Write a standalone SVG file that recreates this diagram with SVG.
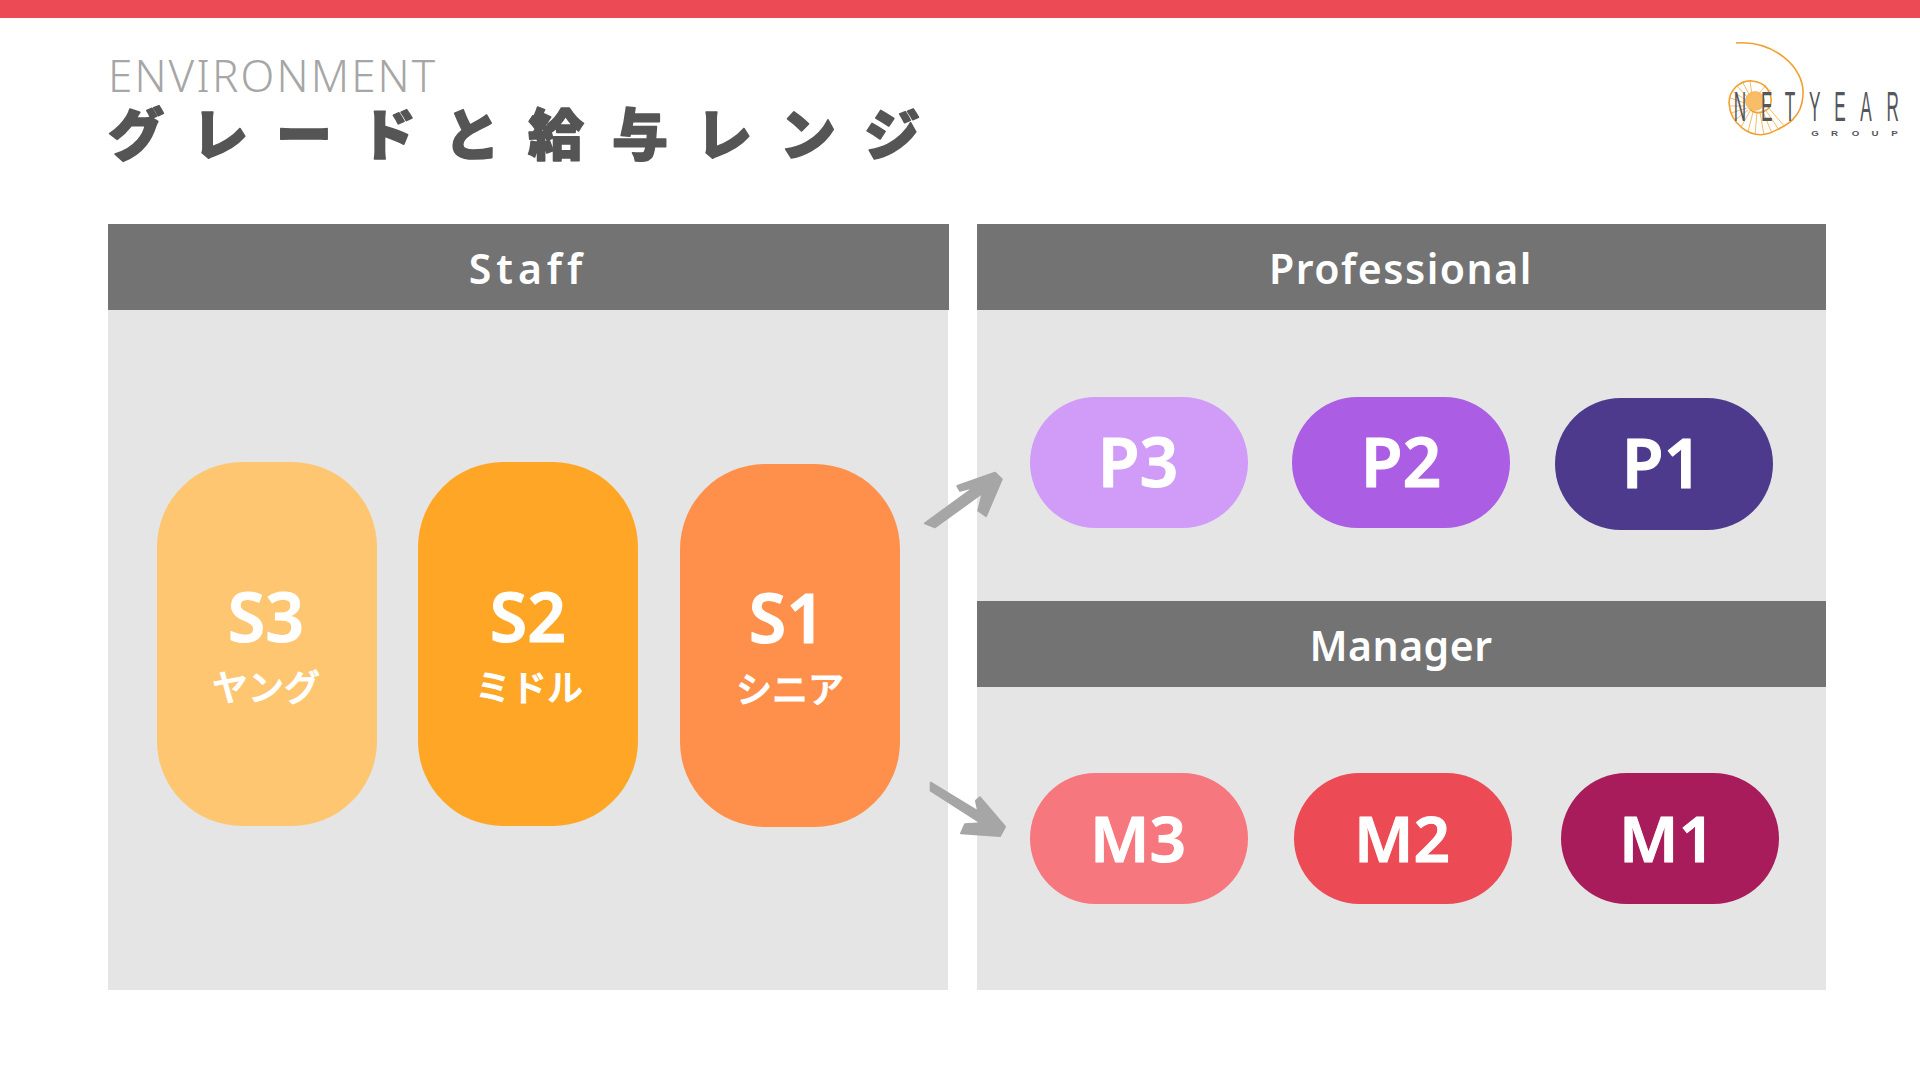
<svg xmlns="http://www.w3.org/2000/svg" width="1920" height="1080" viewBox="0 0 1920 1080">
<style>
.panel{fill:#e5e5e5}
.head{fill:#737373}
.ht{font-family:"Noto Sans","Noto Sans CJK JP",sans-serif;font-weight:600;font-size:41px;fill:#fff;text-anchor:middle;letter-spacing:1.5px}
.big{font-family:"Noto Sans","Noto Sans CJK JP",sans-serif;font-weight:600;font-size:68px;fill:#fff;stroke:#fff;stroke-width:1;stroke-linejoin:round;text-anchor:middle}
.mid{font-size:64px}
.sub{font-family:"Noto Sans CJK JP","Noto Sans",sans-serif;font-weight:500;font-size:36px;fill:#fff;stroke:#fff;stroke-width:1;stroke-linejoin:round;text-anchor:middle}
.shell{fill:none;stroke:#f2a93f;stroke-width:.8}
.arrow{fill:#a6a6a6;stroke:#a6a6a6;stroke-width:2;stroke-linejoin:round}
.logo{font-family:"Liberation Sans",sans-serif;fill:#55565a}
</style>
<rect width="1920" height="1080" fill="#fff"/>
<rect width="1920" height="18" fill="#ec4a55"/>
<text x="108" y="92" font-family="Noto Sans,sans-serif" font-weight="300" font-size="44" letter-spacing="2.1" fill="#a6a6a6">ENVIRONMENT</text>
<text x="108" y="155" font-family="Noto Sans CJK JP,sans-serif" font-weight="900" font-size="56" letter-spacing="28" fill="#555" stroke="#555" stroke-width="1.6" stroke-linejoin="round">グレードと給与レンジ</text>
<g id="logo">
<path d="M1736,43C1773,40 1805,67 1803,95C1802,120 1783,127 1770,133C1750,140 1730,123 1729,103C1729,90 1740,80 1752,81C1765,82 1772,92 1771,102C1770,113 1755,116 1749,108" fill="none" stroke="#f0a030" stroke-width="1.6"/>
<path class="shell" d="M1750,81L1752,95M1743,83L1750,96M1737,86L1748,98M1732,91L1746,100M1730,98L1745,103M1729,106L1745,106M1731,113L1747,108M1735,120L1748,110M1741,127L1750,111M1748,132L1753,112M1755,135L1757,112M1764,135L1760,112M1772,133L1762,110M1779,130L1765,109M1785,127L1768,107M1771,90L1760,97M1766,85L1758,95"/>
<circle cx="1755" cy="101" r="10" fill="#f7b24c" opacity=".85"/>
<text class="logo" transform="scale(.4 1)" y="121" font-size="43" text-anchor="middle" x="4350 4417 4475 4537 4600 4665 4732">NETYEAR</text>
<text class="logo" transform="scale(1.5 1)" y="136" font-size="6.500" font-weight="700" text-anchor="middle" x="1210 1223 1237 1250 1263">GROUP</text>
</g>
<g id="staff-panel">
<rect class="panel" x="108" y="224" width="840" height="766"/>
<rect class="head" x="108" y="224" width="841" height="86"/>
<text class="ht" x="528" y="284" style="letter-spacing:5px">Staff</text>
</g>
<g id="professional-panel">
<rect class="panel" x="977" y="224" width="849" height="377"/>
<rect class="head" x="977" y="224" width="849" height="86"/>
<text class="ht" x="1401" y="284">Professional</text>
</g>
<g id="manager-panel">
<rect class="panel" x="977" y="601" width="849" height="389"/>
<rect class="head" x="977" y="601" width="849" height="86"/>
<text class="ht" x="1401" y="661" style="letter-spacing:.5px">Manager</text>
</g>
<g id="s3"><rect x="157" y="462" width="220" height="364" rx="85" fill="#fec671"/><text class="big" x="266" y="642">S3</text><text class="sub" x="266" y="701">ヤング</text></g>
<g id="s2"><rect x="418" y="462" width="220" height="364" rx="85" fill="#ffa627"/><text class="big" x="528" y="642">S2</text><text class="sub" x="529" y="701">ミドル</text></g>
<g id="s1"><rect x="680" y="464" width="220" height="363" rx="85" fill="#ff904c"/><text class="big" x="787" y="643">S1</text><text class="sub" x="790" y="703">シニア</text></g>
<g id="p3"><rect x="1030" y="397" width="218" height="131" rx="65.500" fill="#d19bf8"/><text class="big" x="1138" y="487">P3</text></g>
<g id="p2"><rect x="1292" y="397" width="218" height="131" rx="65.500" fill="#ab5de4"/><text class="big" x="1401" y="487">P2</text></g>
<g id="p1"><rect x="1555" y="398" width="218" height="132" rx="66" fill="#4d3a8d"/><text class="big" x="1662" y="488">P1</text></g>
<g id="m3"><rect x="1030" y="773" width="218" height="131" rx="65.500" fill="#f6777d"/><text class="big mid" x="1138" y="862">M3</text></g>
<g id="m2"><rect x="1294" y="773" width="218" height="131" rx="65.500" fill="#ec4a55"/><text class="big mid" x="1402" y="862">M2</text></g>
<g id="m1"><rect x="1561" y="773" width="218" height="131" rx="65.500" fill="#a91c5b"/><text class="big mid" x="1667" y="862">M1</text></g>
<g id="connectors">
<path class="arrow" d="M925,523.300L975,486.700L960,490.700L957.300,486L995,472.700L1001.700,479.300L986,516L978.300,510.700L982.700,492.700L935,527.300Z"/>
<path class="arrow" d="M930.700,782.700L978.300,811.700L976,800.700L980,797.300L1005,826.700L1000,836L961,833.300L965,824.300L981.700,823.300L930.700,790.700Z"/>
</g>
</svg>
